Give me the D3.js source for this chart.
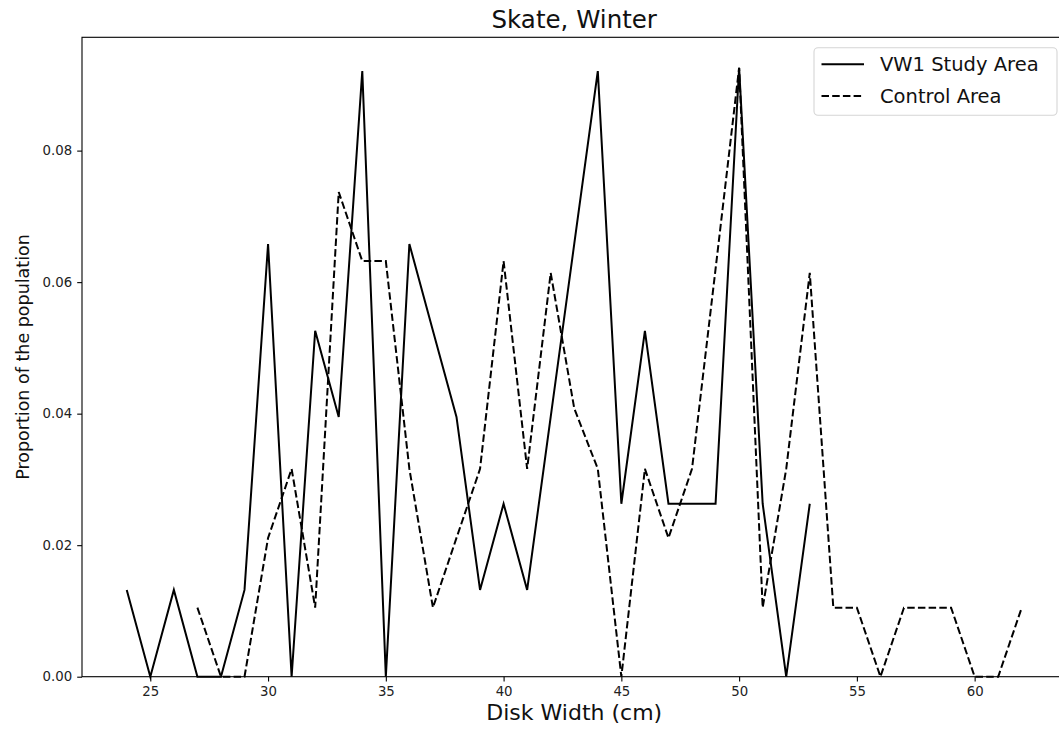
<!DOCTYPE html>
<html>
<head>
<meta charset="utf-8">
<script src="https://cdn.jsdelivr.net/npm/d3@7"></script>
<style>
  html, body { margin: 0; padding: 0; background: #fff; }
  svg { display: block; font-family: "DejaVu Sans", sans-serif; }
</style>
</head>
<body>
<svg id="chart" width="1059" height="733"></svg>
<script>
// ---- data ----
const title = "Skate, Winter";
const xLabel = "Disk Width (cm)";
const yLabel = "Proportion of the population";
const seriesNames = ["VW1 Study Area", "Control Area"];

const studyWidths = [24,25,26,27,28,29,30,31,32,33,34,35,36,37,38,39,40,41,42,43,44,45,46,47,48,49,50,51,52,53];
const studyValues = [0.0132,0,0.0132,0,0,0.0132,0.0658,0,0.0526,0.0395,0.0921,0,0.0658,0.0526,0.0395,0.0132,0.0263,0.0132,0.0395,0.0658,0.0921,0.0263,0.0526,0.0263,0.0263,0.0263,0.0926,0.0263,0,0.0263];

const controlWidths = [27,28,29,30,31,32,33,34,35,36,37,38,39,40,41,42,43,44,45,46,47,48,49,50,51,52,53,54,55,56,57,58,59,60,61,62];
const controlValues = [0.0105,0,0,0.0211,0.0316,0.0105,0.0737,0.0632,0.0632,0.0316,0.0105,0.0211,0.0316,0.0632,0.0316,0.0614,0.0408,0.0316,0,0.0316,0.0211,0.0316,0.062,0.0926,0.0105,0.0316,0.0614,0.0105,0.0105,0,0.0105,0.0105,0.0105,0,0,0.0105];

const xTicks = [25,30,35,40,45,50,55,60];
const yTicks = [0,0.02,0.04,0.06,0.08];

// ---- layout ----
const svg = d3.select("#chart");
const ax = { left: 82, right: 1066.5, top: 37.3, bottom: 676.7 };

const allX = studyWidths.concat(controlWidths);
const xmin = d3.min(allX), xmax = d3.max(allX);
const xpad = (xmax - xmin) * 0.05;
const ymax = d3.max(studyValues.concat(controlValues));

const x = d3.scaleLinear().domain([xmin - xpad, xmax + xpad]).range([ax.left, ax.right]);
const y = d3.scaleLinear().domain([0, ymax * 1.05]).range([ax.bottom, ax.top]);

const ink = "#000";

// lines
const line = d3.line().x(d => x(d[0])).y(d => y(d[1]));
const studyData = studyWidths.map((w, i) => [w, studyValues[i]]);
const controlData = controlWidths.map((w, i) => [w, controlValues[i]]);

const plot = svg.append("g");
plot.append("path").datum(studyData)
  .attr("d", line).attr("fill", "none").attr("stroke", ink)
  .attr("stroke-width", 2).attr("stroke-linejoin", "miter").attr("stroke-linecap", "butt");
plot.append("path").datum(controlData)
  .attr("d", line).attr("fill", "none").attr("stroke", ink)
  .attr("stroke-width", 2).attr("stroke-dasharray", "7.5,3.2").attr("stroke-linecap", "butt");

// axes
const xAxis = d3.axisBottom(x).tickValues(xTicks).tickSize(4.8).tickPadding(5).tickFormat(d3.format("d"));
const yAxis = d3.axisLeft(y).tickValues(yTicks).tickSize(4.8).tickPadding(5).tickFormat(d3.format(".2f"));

const gx = svg.append("g").attr("transform", `translate(0,${ax.bottom})`).call(xAxis);
const gy = svg.append("g").attr("transform", `translate(${ax.left},0)`).call(yAxis);
[gx, gy].forEach(g => {
  g.select(".domain").remove();
  g.selectAll(".tick line").attr("stroke", ink).attr("stroke-width", 1.1);
  g.selectAll(".tick text").attr("fill", "#222").style("font-size", "13.3px")
    .style("font-family", "DejaVu Sans");
});

// spines
svg.append("rect")
  .attr("x", ax.left).attr("y", ax.top)
  .attr("width", ax.right - ax.left).attr("height", ax.bottom - ax.top)
  .attr("fill", "none").attr("stroke", ink).attr("stroke-width", 1.1);

// title & labels
svg.append("text").attr("x", (ax.left + ax.right) / 2).attr("y", 27.5)
  .attr("text-anchor", "middle").style("font-size", "24.5px").attr("fill", "#111").text(title);
svg.append("text").attr("x", (ax.left + ax.right) / 2).attr("y", 720)
  .attr("text-anchor", "middle").style("font-size", "22px").attr("fill", "#111").text(xLabel);
svg.append("text")
  .attr("transform", `translate(28.5,${(ax.top + ax.bottom) / 2}) rotate(-90)`)
  .attr("text-anchor", "middle").style("font-size", "17.5px").attr("fill", "#111").text(yLabel);

// legend
const fs = 19.5;
const lgW = 243, lgH = 67.5;
const lgX = ax.right - 9.5 - lgW, lgY = ax.top + 10.4;
const lg = svg.append("g");
lg.append("rect").attr("x", lgX).attr("y", lgY).attr("width", lgW).attr("height", lgH)
  .attr("rx", 4).attr("ry", 4)
  .attr("fill", "rgba(255,255,255,0.8)").attr("stroke", "#d5d5d5").attr("stroke-width", 1.1);
const rows = [{ name: seriesNames[0], dash: null }, { name: seriesNames[1], dash: "7.5,3.2" }];
rows.forEach((r, i) => {
  const cy = lgY + 16.6 + i * 31.7;
  const l = lg.append("line").attr("x1", lgX + 7.5).attr("x2", lgX + 50).attr("y1", cy).attr("y2", cy)
    .attr("stroke", ink).attr("stroke-width", 2);
  if (r.dash) l.attr("stroke-dasharray", r.dash);
  lg.append("text").attr("x", lgX + 66).attr("y", cy).attr("dy", "0.36em")
    .style("font-size", fs + "px").attr("fill", "#111").text(r.name);
});
</script>
</body>
</html>
